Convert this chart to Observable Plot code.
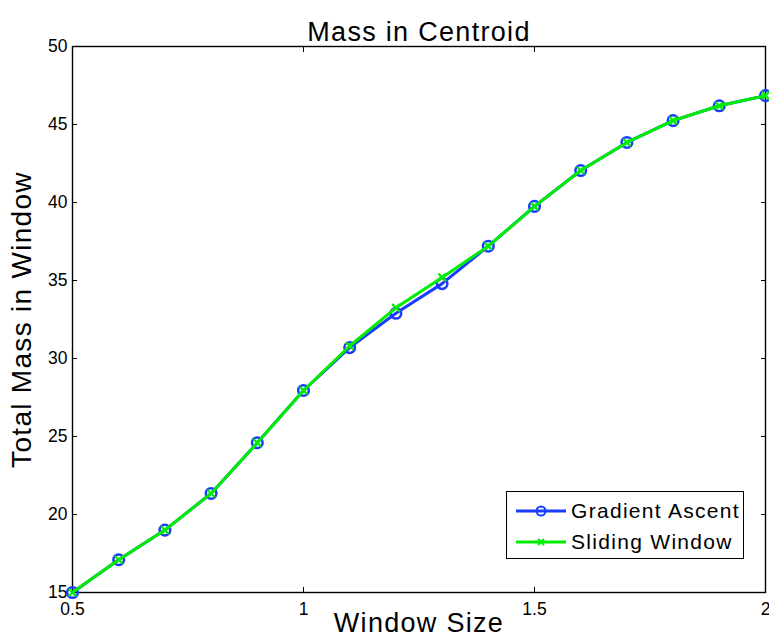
<!DOCTYPE html>
<html>
<head>
<meta charset="utf-8">
<script src="https://cdn.jsdelivr.net/npm/d3@7"></script>
<script src="https://cdn.jsdelivr.net/npm/@observablehq/plot@0.6"></script>
<style>
  html, body { margin: 0; padding: 0; background: #fff; }
  #wrap { position: relative; width: 769px; height: 644px; font-family: "Liberation Sans", Arial, Helvetica, sans-serif; }
  #legend { position: absolute; left: 506px; top: 491px; width: 236px; height: 66px; border: 1.2px solid #000; background: #fff; font-size: 21px; letter-spacing: 1.3px; }
  .row { position: absolute; left: 9px; height: 30px; display: flex; align-items: center; }
  .row span { margin-left: 5px; color: #000; }
</style>
</head>
<body>
<div id="wrap"></div>
<script>
const windowSize = [0.5, 0.6, 0.7, 0.8, 0.9, 1.0, 1.1, 1.2, 1.3, 1.4, 1.5, 1.6, 1.7, 1.8, 1.9, 2.0];
const gradientAscent = [15.0, 17.1, 19.0, 21.35, 24.6, 27.95, 30.7, 32.9, 34.8, 37.2, 39.75, 42.05, 43.85, 45.25, 46.2, 46.85];
const slidingWindow = [15.0, 17.1, 19.0, 21.35, 24.6, 27.95, 30.8, 33.25, 35.2, 37.2, 39.75, 42.05, 43.85, 45.25, 46.2, 46.85];
const xTicks = [0.5, 1, 1.5, 2];
const yTicks = [15, 20, 25, 30, 35, 40, 45, 50];
const seriesNames = ["Gradient Ascent", "Sliding Window"];
const seriesColors = ["#1a3cff", "#00ee00"];
const titleText = "Mass in Centroid";
const xLabel = "Window Size";
const yLabel = "Total Mass in Window";

const ga = windowSize.map((x, i) => ({x, y: gradientAscent[i]}));
const sw = windowSize.map((x, i) => ({x, y: slidingWindow[i]}));

const chart = Plot.plot({
  width: 769,
  height: 644,
  marginLeft: 72,
  marginRight: 4,
  marginTop: 46,
  marginBottom: 52,
  style: {fontFamily: "Liberation Sans, Arial, sans-serif", fontSize: "17.5px", color: "#000", background: "#fff"},
  x: {domain: [0.5, 2]},
  y: {domain: [15, 50]},
  marks: [
    Plot.axisX(xTicks, {anchor: "bottom", tickSize: -5, tickPadding: 15, tickFormat: d => String(d), fontSize: 17.5, label: null}),
    Plot.axisX(xTicks, {anchor: "top", tickSize: -5, tickFormat: () => "", label: null}),
    Plot.axisY(yTicks, {anchor: "left", tickSize: -5, tickPadding: 10, fontSize: 17.5, label: null}),
    Plot.axisY(yTicks, {anchor: "right", tickSize: -5, tickFormat: () => "", label: null}),
    Plot.frame({stroke: "#000", strokeWidth: 1.4}),
    Plot.line(ga, {x: "x", y: "y", stroke: seriesColors[0], strokeWidth: 3}),
    Plot.dot(ga, {x: "x", y: "y", r: 5.3, stroke: seriesColors[0], strokeWidth: 2.5, fill: "none"}),
    Plot.line(sw, {x: "x", y: "y", stroke: seriesColors[1], strokeWidth: 3}),
    Plot.dot(sw, {x: "x", y: "y", r: 3.5, symbol: "times", stroke: seriesColors[1], strokeWidth: 2.2}),
    Plot.text([titleText], {frameAnchor: "top", dy: -25, fontSize: 27, text: d => d}),
    Plot.text([xLabel], {frameAnchor: "bottom", dy: 39, fontSize: 27, text: d => d}),
    Plot.text([yLabel], {frameAnchor: "left", dx: -50, rotate: -90, textAnchor: "middle", fontSize: 28, text: d => d})
  ]
});

d3.select(chart).selectAll("text")
  .filter(function() { return [titleText, xLabel, yLabel].includes(this.textContent); })
  .style("letter-spacing", "1.3px");

const wrap = document.getElementById("wrap");
wrap.appendChild(chart);

const legend = document.createElement("div");
legend.id = "legend";
seriesNames.forEach((name, i) => {
  const row = document.createElement("div");
  row.className = "row";
  row.style.top = (4 + i * 31) + "px";
  const sample = i === 0
    ? `<svg width="50" height="14"><line x1="0" y1="7" x2="50" y2="7" stroke="${seriesColors[0]}" stroke-width="3"/><circle cx="25" cy="7" r="4.5" fill="none" stroke="${seriesColors[0]}" stroke-width="2"/></svg>`
    : `<svg width="50" height="14"><line x1="0" y1="7" x2="50" y2="7" stroke="${seriesColors[1]}" stroke-width="3"/><path d="M22,4L28,10M22,10L28,4" stroke="${seriesColors[1]}" stroke-width="2"/></svg>`;
  row.innerHTML = sample + `<span>${name}</span>`;
  legend.appendChild(row);
});
wrap.appendChild(legend);
</script>
</body>
</html>
